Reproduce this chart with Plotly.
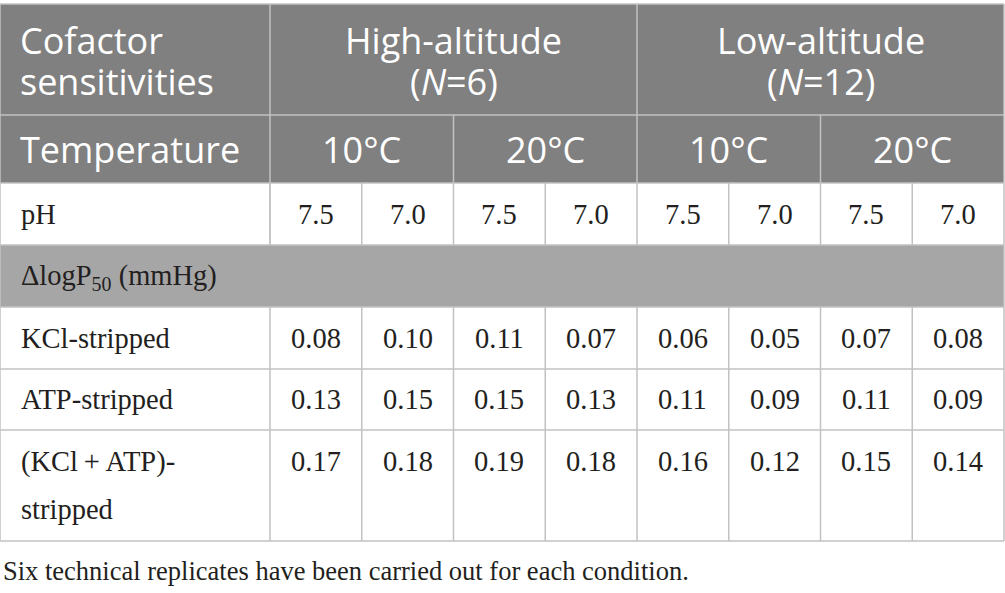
import numpy as np
import plotly.graph_objects as go

# table content
groups = ["High-altitude<br>(<i>N</i>=6)", "Low-altitude<br>(<i>N</i>=12)"]
temps = ["10°C", "20°C", "10°C", "20°C"]
ph = ["7.5", "7.0", "7.5", "7.0", "7.5", "7.0", "7.5", "7.0"]
row_labels = ["KCl-stripped", "ATP-stripped", "(KCl\u2009+\u2009ATP)-<br>stripped"]
kcl = [0.08, 0.10, 0.11, 0.07, 0.06, 0.05, 0.07, 0.08]
atp = [0.13, 0.15, 0.15, 0.13, 0.11, 0.09, 0.11, 0.09]
both = [0.17, 0.18, 0.19, 0.18, 0.16, 0.12, 0.15, 0.14]
section = "ΔlogP<sub>50</sub> (mmHg)"
footnote = "Six technical replicates have been carried out for each condition."

# layout (pixels)
W, H = 1005, 593
first_w, right = 270, 1004
xe = [0] + list(np.linspace(first_w, right, 9))
ye = [4, 115, 183, 245, 307, 369, 430, 541]

dark = "#808080"
mid = "#a6a6a6"
grid = "#c2c2c2"
ink = "#231f20"
sans = "Open Sans"
serif = "Liberation Serif"
hs, bs = 36, 28.5

shapes = []
ann = []


def rect(x0, x1, y0, y1, color):
    shapes.append(dict(type="rect", xref="x", yref="y", x0=x0, x1=x1, y0=y0, y1=y1,
                       fillcolor=color, line=dict(width=0), layer="below"))


def line(x0, x1, y0, y1):
    shapes.append(dict(type="line", xref="x", yref="y", x0=x0, x1=x1, y0=y0, y1=y1,
                       line=dict(color=grid, width=1.5)))


def text(s, x, y, size, family, color, anchor="center", lh=41.5):
    lines = s.split("<br>")
    y0 = y - lh * (len(lines) - 1) / 2
    for k, t in enumerate(lines):
        ann.append(dict(text=t, x=x, y=y0 + k * lh, xref="x", yref="y", showarrow=False,
                        xanchor=anchor, yanchor="middle",
                        font=dict(size=size, family=family, color=color)))


# fills
rect(xe[0], xe[-1], ye[0], ye[2], dark)
rect(xe[0], xe[-1], ye[3], ye[4], mid)

# horizontal lines
for y in ye:
    line(xe[0], xe[-1], y, y)

# vertical lines
line(xe[0], xe[0], ye[0], ye[-1])
line(xe[-1], xe[-1], ye[0], ye[-1])
line(xe[1], xe[1], ye[0], ye[3])
line(xe[5], xe[5], ye[0], ye[2])
for i in (3, 7):
    line(xe[i], xe[i], ye[1], ye[2])
for i in range(1, 9):
    line(xe[i], xe[i], ye[2], ye[3])
    line(xe[i], xe[i], ye[4], ye[-1])

pad_s, pad_b = 18, 19
# header rows
h1 = (ye[0] + ye[1]) / 2 + 1.5
text("Cofactor<br>sensitivities", pad_s, h1, hs, sans, "white", "left")
for g, name in enumerate(groups):
    text(name, (xe[1 + 4 * g] + xe[5 + 4 * g]) / 2, h1, hs, sans, "white")
text("Temperature", pad_s, (ye[1] + ye[2]) / 2, hs, sans, "white", "left")
for t, name in enumerate(temps):
    text(name, (xe[1 + 2 * t] + xe[3 + 2 * t]) / 2, (ye[1] + ye[2]) / 2, hs, sans, "white")

# pH row
text("pH", pad_b, (ye[2] + ye[3]) / 2, bs, serif, ink, "left")
for j, v in enumerate(ph):
    text(v, (xe[j + 1] + xe[j + 2]) / 2, (ye[2] + ye[3]) / 2, bs, serif, ink)

text(section, pad_b, (ye[3] + ye[4]) / 2 + 1, bs, serif, ink, "left")

for r, (lab, vals) in enumerate(zip(row_labels, [kcl, atp, both])):
    y0, y1 = ye[4 + r], ye[5 + r]
    ym = (y0 + y1) / 2
    if "<br>" in lab:
        text(lab, pad_b, ym, bs, serif, ink, "left", lh=48)
        yv = ym - 24
    else:
        text(lab, pad_b, ym, bs, serif, ink, "left")
        yv = ym
    for j, v in enumerate(vals):
        text(f"{v:.2f}", (xe[j + 1] + xe[j + 2]) / 2, yv, bs, serif, ink)

text(footnote, 1, 571, 26.5, serif, ink, "left")

fig = go.Figure()
fig.update_layout(
    width=W, height=H,
    margin=dict(l=0, r=0, t=0, b=0),
    paper_bgcolor="white", plot_bgcolor="white",
    shapes=shapes, annotations=ann,
    showlegend=False,
)
fig.update_xaxes(range=[0, W], visible=False, fixedrange=True)
fig.update_yaxes(range=[H, 0], visible=False, fixedrange=True)
fig.write_html("out.html", config={"displayModeBar": False},
               post_script="document.body.style.margin = '0';")
